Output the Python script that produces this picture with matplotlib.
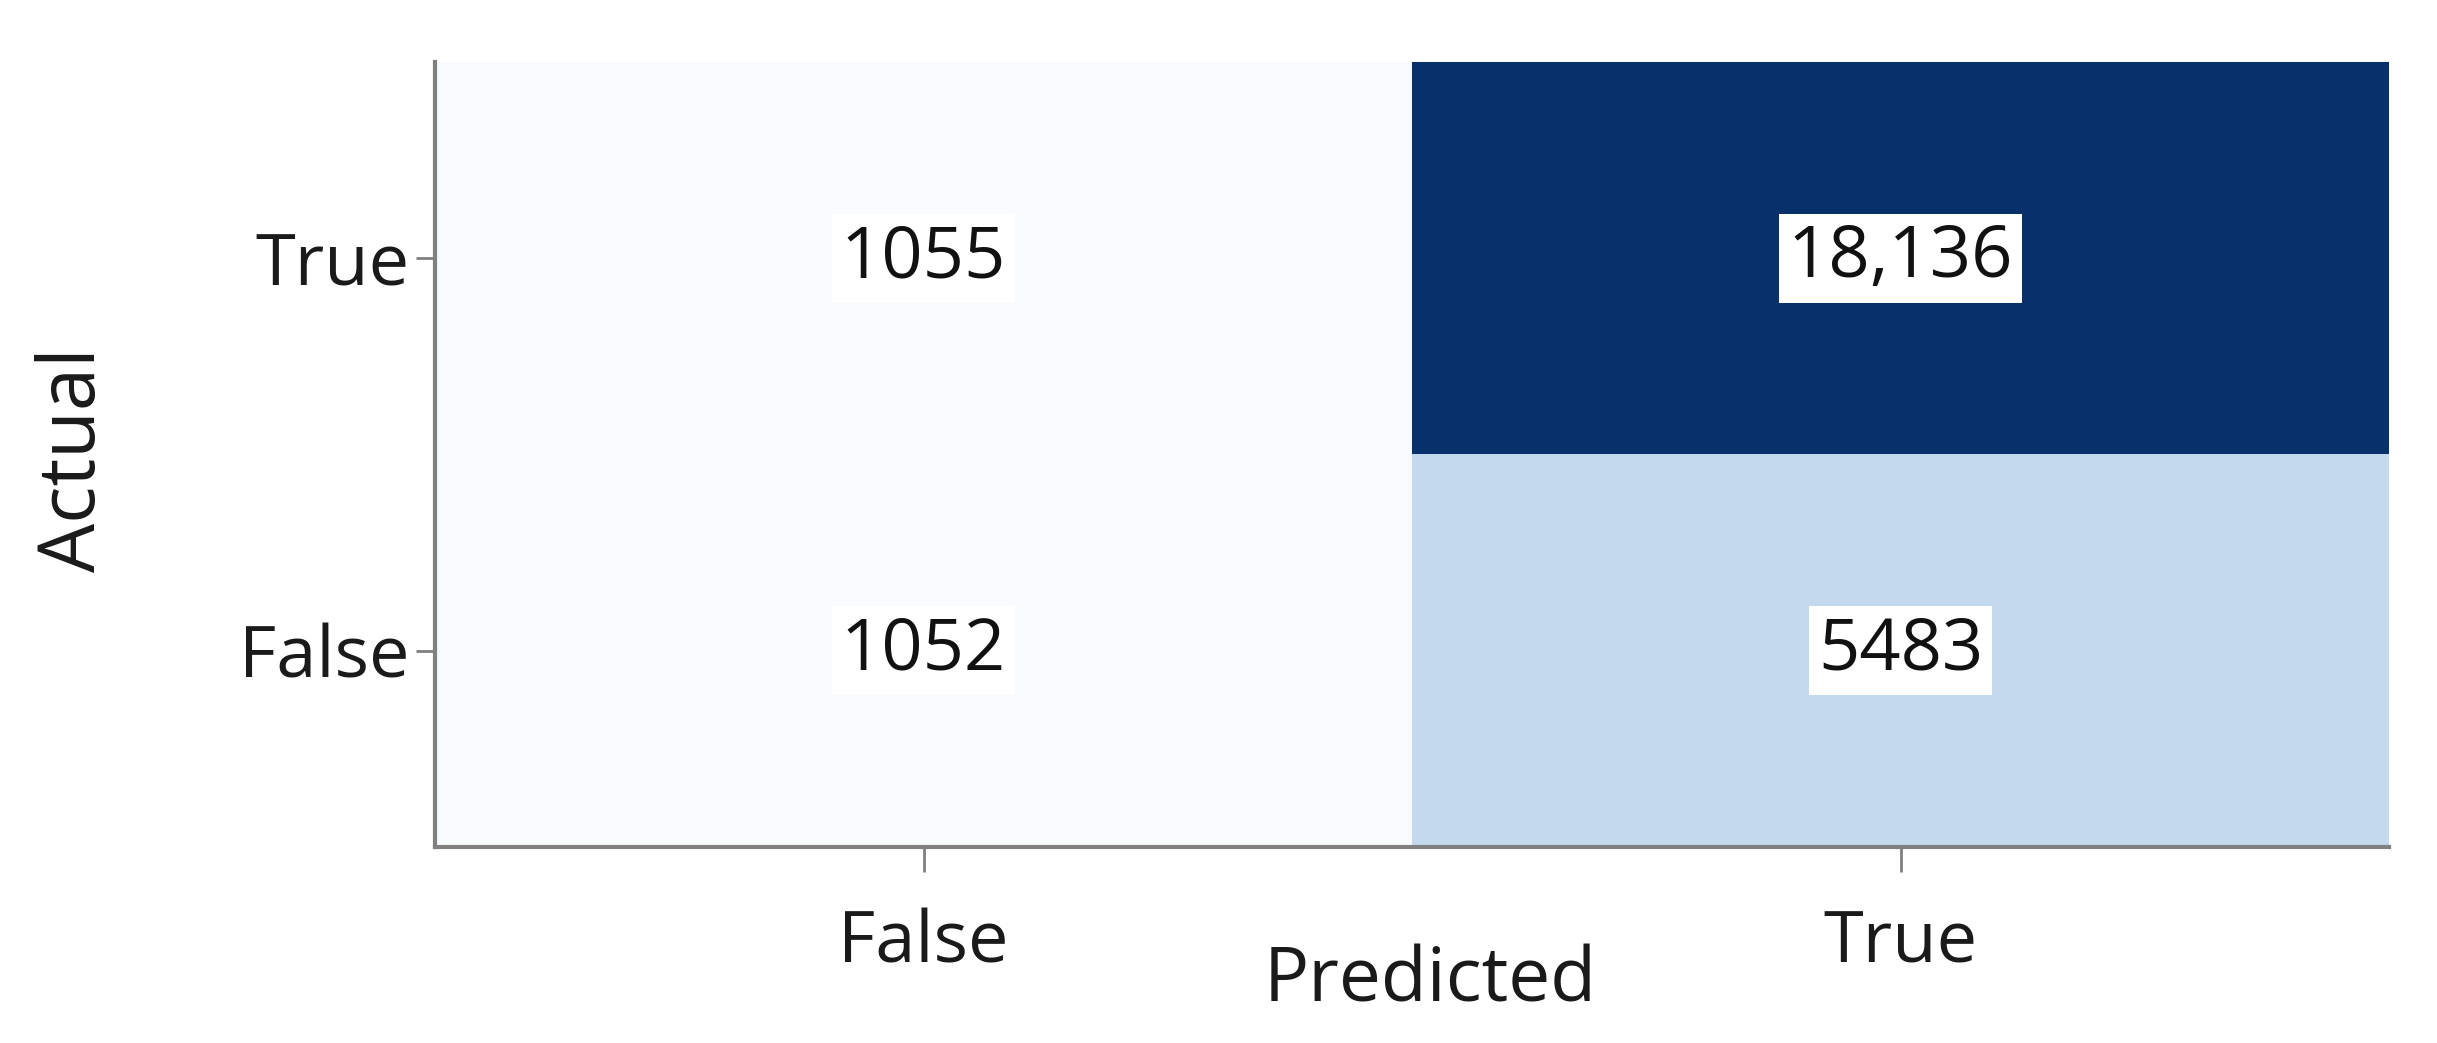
import matplotlib
matplotlib.use("Agg")
import matplotlib.pyplot as plt
import numpy as np

# Data
actual_labels = ["True", "False"]          # rows, top to bottom
predicted_labels = ["False", "True"]       # columns, left to right
counts = [[1055, 18136],
          [1052, 5483]]
cell_texts = [["1055", "18,136"],
              ["1052", "5483"]]

plt.rcParams['font.family'] = ['Open Sans', 'DejaVu Sans']

W, H = 2437, 1043
fig = plt.figure(figsize=(W / 100, H / 100), dpi=100)
ax = fig.add_axes([435 / W, (H - 847) / H, (2389 - 435) / W, (847 - 62) / H])

data = np.array(counts, dtype=float)
ax.imshow(data, cmap="Blues", aspect="auto", interpolation="nearest",
          vmin=data.min(), vmax=data.max())

for i in range(data.shape[0]):
    for j in range(data.shape[1]):
        ax.text(j, i, cell_texts[i][j], ha="center", va="center",
                fontsize=52, color="#111111",
                bbox=dict(facecolor="white", edgecolor="none", pad=6))

ax.set_xticks(range(len(predicted_labels)))
ax.set_xticklabels(predicted_labels)
ax.set_yticks(range(len(actual_labels)))
ax.set_yticklabels(actual_labels)

for s in ["top", "right"]:
    ax.spines[s].set_visible(False)
for s in ["left", "bottom"]:
    ax.spines[s].set_color("#808080")
    ax.spines[s].set_linewidth(3)

ax.tick_params(axis="x", length=18, width=2, color="#808080", pad=26,
               labelsize=52, labelcolor="#1a1a1a")
ax.tick_params(axis="y", length=14, width=2, color="#808080", pad=4,
               labelsize=52, labelcolor="#1a1a1a")

fig.text(1430 / W, 1 - 982 / H, "Predicted", ha="center", va="center",
         fontsize=54, color="#1a1a1a")
fig.text(75 / W, 1 - 460 / H, "Actual", ha="center", va="center",
         rotation=90, fontsize=56, color="#1a1a1a")

fig.savefig("out.png", dpi=100, facecolor="white")
